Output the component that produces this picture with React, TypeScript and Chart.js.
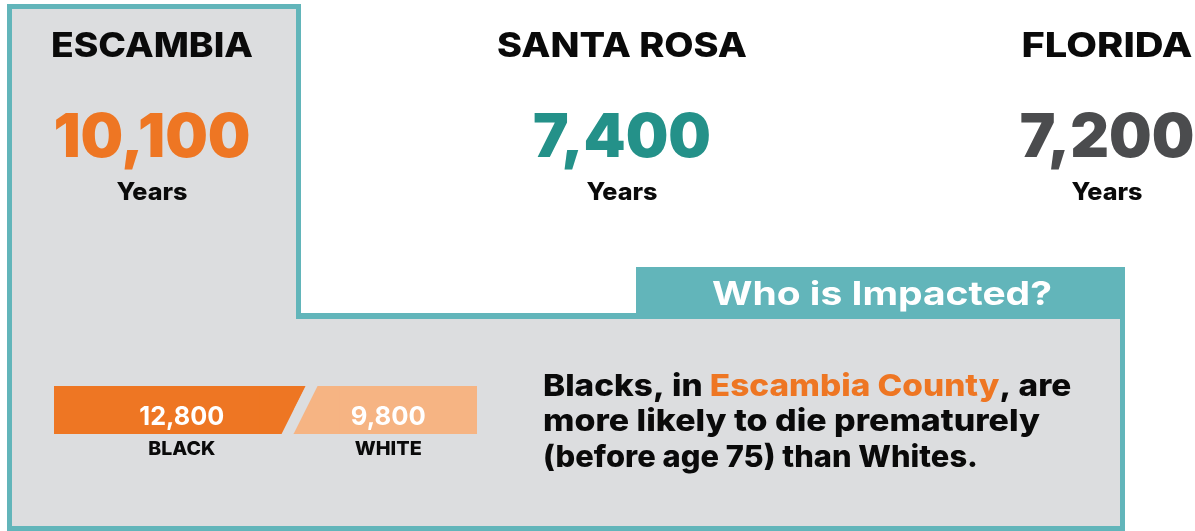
import React, { useEffect, useRef } from "react";
import { Chart, registerables } from "chart.js";

Chart.register(...registerables);

const regionNames = ["ESCAMBIA", "SANTA ROSA", "FLORIDA"];
const regionYears = [10100, 7400, 7200];
const unitLabel = "Years";
const headerTitle = "Who is Impacted?";
const raceLabels = ["BLACK", "WHITE"];
const raceValues = [12800, 9800];
const categoryLabels = ["Escambia"];
const paragraphLines: { text: string; color: string }[][] = [
  [
    { text: "Blacks, in ", color: "#0a0a0a" },
    { text: "Escambia County", color: "#ee7623" },
    { text: ", are", color: "#0a0a0a" },
  ],
  [{ text: "more likely to die prematurely", color: "#0a0a0a" }],
  [{ text: "(before age 75) than Whites.", color: "#0a0a0a" }],
];

const W = 1195;
const H = 531;
const TEAL = "#62b5ba";
const GRAY = "#dcdddf";
const raceColors = ["#ee7623", "#f6b483"];
const regionColors = ["#ee7623", "#249189", "#4b4c4e"];
const regionCenters = [152, 622, 1107];
const regionNameWidths = [202, 250, 171];
const paragraphWidths = [527, 497, 435];
const HEAD_FONT = "Inter, 'Noto Sans', sans-serif";
const BODY_FONT = "Inter, 'Noto Sans', sans-serif";

function fmt(n: number) {
  return n.toLocaleString("en-US");
}

function drawText(
  ctx: CanvasRenderingContext2D,
  text: string,
  x: number,
  y: number,
  size: number,
  weight: number,
  color: string,
  align: CanvasTextAlign = "center",
  family = HEAD_FONT,
  targetWidth?: number
) {
  ctx.save();
  ctx.font = `${weight} ${size}px ${family}`;
  ctx.fillStyle = color;
  ctx.textAlign = align;
  ctx.textBaseline = "alphabetic";
  if (targetWidth) {
    const w = ctx.measureText(text).width;
    const s = targetWidth / w;
    ctx.translate(x, y);
    ctx.scale(s, 1);
    ctx.fillText(text, 0, 0);
  } else {
    ctx.fillText(text, x, y);
  }
  ctx.restore();
}

function poly(ctx: CanvasRenderingContext2D, color: string, pts: number[][]) {
  ctx.fillStyle = color;
  ctx.beginPath();
  ctx.moveTo(pts[0][0], pts[0][1]);
  for (let i = 1; i < pts.length; i++) ctx.lineTo(pts[i][0], pts[i][1]);
  ctx.closePath();
  ctx.fill();
}

const backgroundPlugin = {
  id: "infographicBackground",
  beforeDraw(chart: any) {
    const ctx: CanvasRenderingContext2D = chart.ctx;
    ctx.save();
    ctx.fillStyle = "#ffffff";
    ctx.fillRect(0, 0, W, H);
    ctx.fillStyle = GRAY;
    ctx.fillRect(12, 9, 284, 520);
    ctx.fillRect(12, 319, 1108, 210);
    ctx.fillStyle = TEAL;
    ctx.fillRect(7, 4, 294, 5);
    ctx.fillRect(7, 4, 5, 527);
    ctx.fillRect(296, 4, 5, 315);
    ctx.fillRect(296, 313, 345, 6);
    ctx.fillRect(636, 267, 489, 52);
    ctx.fillRect(1120, 267, 5, 264);
    ctx.fillRect(7, 526, 1118, 5);
    ctx.restore();
  },
  afterDatasetsDraw(chart: any) {
    const ctx: CanvasRenderingContext2D = chart.ctx;
    const area = chart.chartArea;
    const b = chart.getDatasetMeta(0).data[0].x + 6;
    const top = area.top;
    const bot = area.bottom;
    const c0 = chart.data.datasets[0].backgroundColor;
    const c1 = chart.data.datasets[1].backgroundColor;
    ctx.save();
    // orange side up to its slanted edge
    poly(ctx, c0, [[b - 40, top], [b + 6.5, top], [b - 18.5, bot], [b - 40, bot]]);
    // light side from its slanted edge
    poly(ctx, c1, [[b + 18.5, top], [b + 40, top], [b + 40, bot], [b - 6.5, bot]]);
    // gap
    poly(ctx, GRAY, [[b + 6.5, top - 1], [b + 18.5, top - 1], [b - 6.5, bot + 1], [b - 18.5, bot + 1]]);
    ctx.restore();
    chart.data.datasets.forEach((ds: any, i: number) => {
      const el = chart.getDatasetMeta(i).data[0];
      const cx = (el.x + el.base) / 2 + (i === 0 ? 8 : 3);
      drawText(ctx, fmt(ds.data[0]), cx, 425, 26, 700, "#ffffff", "center", BODY_FONT, i === 0 ? 85 : 75);
      drawText(ctx, ds.label, cx, 455, 19, 800, "#0a0a0a", "center", HEAD_FONT, 67);
    });
  },
  afterDraw(chart: any) {
    const ctx: CanvasRenderingContext2D = chart.ctx;
    regionNames.forEach((name, i) => {
      const cx = regionCenters[i];
      drawText(ctx, name, cx, 57, 34, 800, "#0a0a0a", "center", HEAD_FONT, regionNameWidths[i]);
      drawText(ctx, fmt(regionYears[i]), cx, 157, 60, 900, regionColors[i]);
      drawText(ctx, unitLabel, cx, 200, 24, 800, "#0a0a0a", "center", HEAD_FONT, 71);
    });
    drawText(ctx, headerTitle, 882, 305, 33, 700, "#ffffff", "center", HEAD_FONT, 340);
    const baselines = [396, 431, 467];
    paragraphLines.forEach((line, li) => {
      ctx.save();
      ctx.font = `800 30px ${BODY_FONT}`;
      ctx.textAlign = "left";
      ctx.textBaseline = "alphabetic";
      const full = line.map((s) => s.text).join("");
      const s = paragraphWidths[li] / ctx.measureText(full).width;
      ctx.translate(543, baselines[li]);
      ctx.scale(s, 1);
      let x = 0;
      line.forEach((seg) => {
        ctx.fillStyle = seg.color;
        ctx.fillText(seg.text, x, 0);
        x += ctx.measureText(seg.text).width;
      });
      ctx.restore();
    });
  },
};

export default function App() {
  const ref = useRef<HTMLCanvasElement | null>(null);
  useEffect(() => {
    if (!ref.current) return;
    const total = raceValues.reduce((a, b) => a + b, 0);
    const chart = new Chart(ref.current, {
      type: "bar",
      data: {
        labels: categoryLabels,
        datasets: raceLabels.map((l, i) => ({
          label: l,
          data: [raceValues[i]],
          backgroundColor: raceColors[i],
          borderWidth: 0,
          barPercentage: 1,
          categoryPercentage: 1,
        })),
      },
      options: {
        indexAxis: "y",
        responsive: false,
        animation: false,
        devicePixelRatio: 1,
        layout: { padding: { left: 54, right: W - 477, top: 386, bottom: H - 434 } },
        scales: {
          x: { stacked: true, display: false, min: 0, max: total },
          y: { stacked: true, display: false },
        },
        plugins: { legend: { display: false }, tooltip: { enabled: false } },
      },
      plugins: [backgroundPlugin],
    } as any);
    return () => chart.destroy();
  }, []);
  return (
    <div style={{ position: "fixed", left: 0, top: 0, width: W, height: H }}>
      <canvas ref={ref} width={W} height={H} style={{ display: "block" }} />
    </div>
  );
}
